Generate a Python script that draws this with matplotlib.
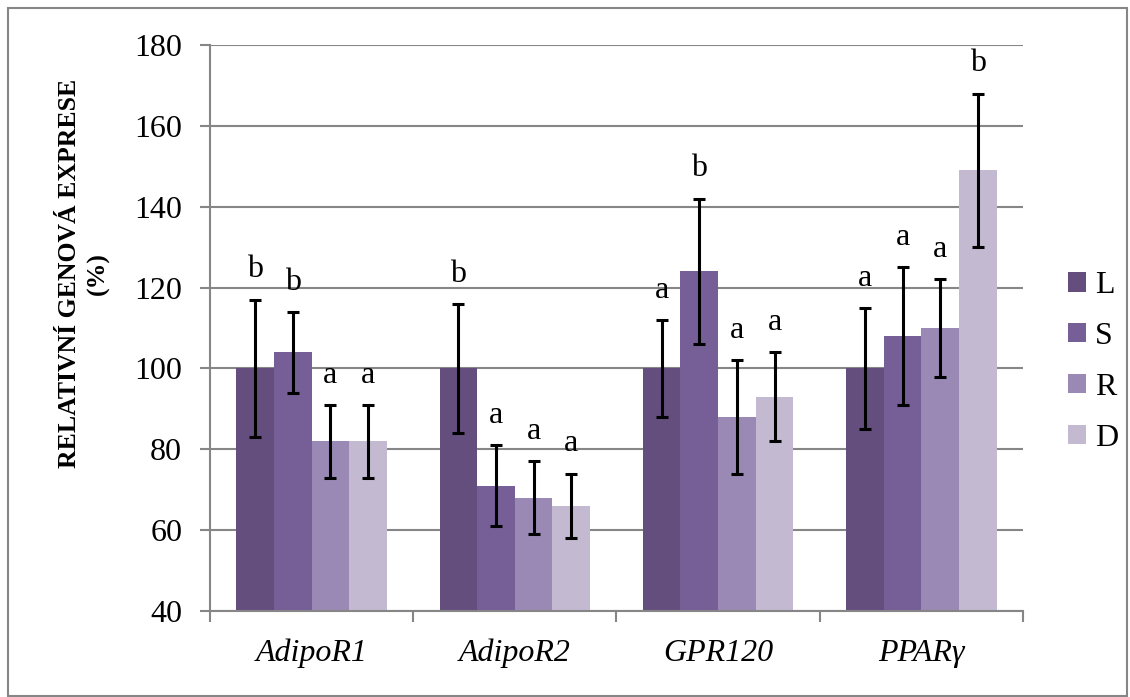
import matplotlib
matplotlib.use("Agg")
import matplotlib.pyplot as plt
import numpy as np
from matplotlib.patches import Rectangle

# data
genes = ["AdipoR1", "AdipoR2", "GPR120", "PPARγ"]
skupiny = ["L", "S", "R", "D"]
hodnoty = {
    "L": [100, 100, 100, 100],
    "S": [104, 71, 124, 108],
    "R": [82, 68, 88, 110],
    "D": [82, 66, 93, 149],
}
chyby = {
    "L": [17, 16, 12, 15],
    "S": [10, 10, 18, 17],
    "R": [9, 9, 14, 12],
    "D": [9, 8, 11, 19],
}
pismena = {
    "L": ["b", "b", "a", "a"],
    "S": ["b", "a", "b", "a"],
    "R": ["a", "a", "a", "a"],
    "D": ["a", "a", "a", "b"],
}
barvy = ["#634E7E", "#765E97", "#9A89B4", "#C3B9D1"]

plt.rcParams["font.family"] = ["Liberation Serif", "DejaVu Serif"]

fig = plt.figure(figsize=(11.3, 6.97), dpi=100)
ax = fig.add_axes([0.1858, 0.1234, 0.7195, 0.812])

x = np.arange(len(genes))
sirka = 0.185
for i, s in enumerate(skupiny):
    pos = x + (i - 1.5) * sirka
    ax.bar(pos, hodnoty[s], width=sirka, color=barvy[i], label=s, zorder=2)
    ax.errorbar(pos, hodnoty[s], yerr=chyby[s], fmt="none", ecolor="black",
                elinewidth=2.2, capsize=4.5, capthick=2.2, zorder=3)
    for xp, v, e, t in zip(pos, hodnoty[s], chyby[s], pismena[s]):
        ax.text(xp, v + e + 5.5, t, ha="center", va="baseline", fontsize=23)

ax.set_ylim(40, 180)
ax.set_xlim(-0.5, 3.5)
ax.set_yticks(range(40, 181, 20))
ax.set_xticks(x)
ax.set_xticklabels(genes, fontstyle="italic", fontsize=23)
ax.tick_params(axis="y", labelsize=23, length=7, width=1.5, color="#868686", pad=13)
ax.tick_params(axis="x", length=0, pad=20)
# category separator ticks
ax.set_xticks(np.arange(-0.5, 4, 1), minor=True)
ax.tick_params(axis="x", which="minor", length=8, width=1.5, color="#868686")

ax.grid(axis="y", color="#868686", linewidth=1.5, zorder=0)
ax.set_axisbelow(True)
for sp in ["top", "right"]:
    ax.spines[sp].set_visible(False)
for sp in ["left", "bottom"]:
    ax.spines[sp].set_color("#868686")
    ax.spines[sp].set_linewidth(1.5)

ax.set_ylabel("RELATIVNÍ GENOVÁ EXPRESE\n(%)", fontsize=18.5, fontweight="bold",
              linespacing=1.3)
ax.yaxis.set_label_coords(-0.123, 0.597)

leg = ax.legend(loc="center left", bbox_to_anchor=(1.02, 0.44), frameon=False,
                fontsize=23, handlelength=0.55, handleheight=0.55,
                handletextpad=0.3, labelspacing=0.68)

# outer frame
fig.patches.append(Rectangle((8 / 1130, 1 / 697), 1119 / 1130, 688 / 697,
                             transform=fig.transFigure, fill=False,
                             edgecolor="#868686", linewidth=1.5))

fig.savefig("out.png", dpi=100)
